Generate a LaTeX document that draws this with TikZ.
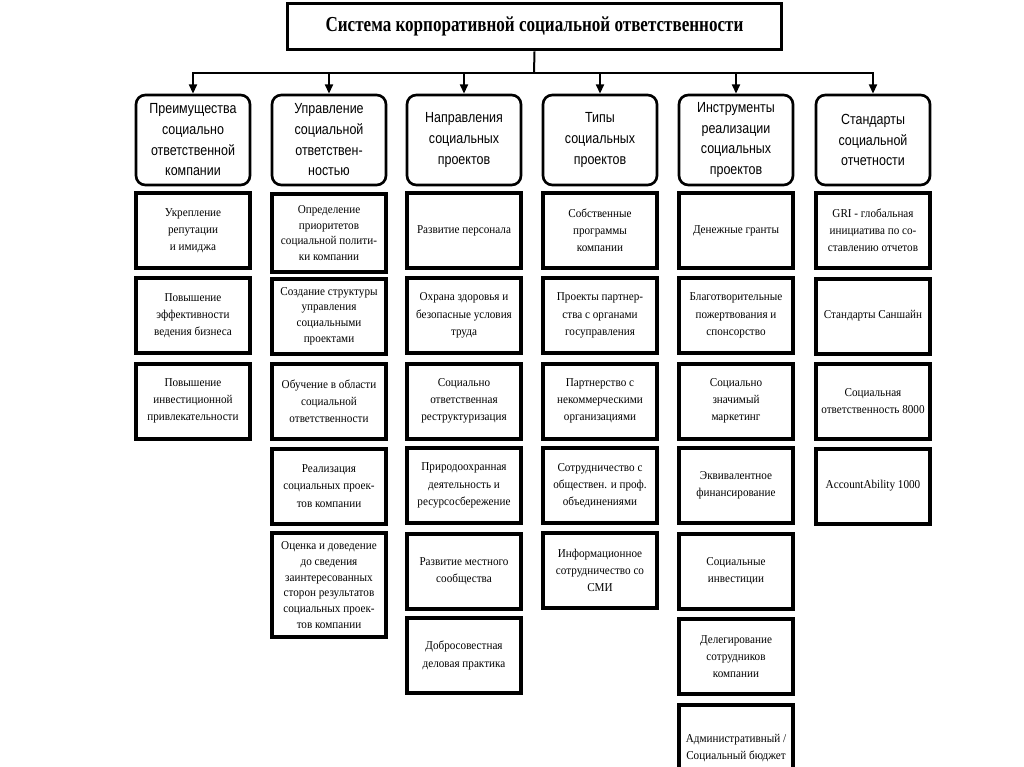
\documentclass[tikz,border=0pt]{standalone}
\usepackage{fontspec}
\setmainfont{Liberation Serif}
\newfontfamily\hdrfont[FakeStretch=0.85]{Liberation Sans}
\newfontfamily\boxfont[FakeStretch=0.93]{Liberation Serif}
\newfontfamily\ttlfont[FakeStretch=0.8]{Liberation Serif}
\usetikzlibrary{arrows.meta}
\begin{document}
\begin{tikzpicture}[x=0.75pt,y=-0.75pt,
  ttl/.style={draw, line width=2.2pt, minimum width=371pt, minimum height=35pt, inner sep=0pt,
    font=\ttlfont\fontsize{16}{18}\selectfont\bfseries},
  hdr/.style={draw, rounded corners=7pt, line width=2pt, minimum width=85.5pt, minimum height=67.5pt,
    align=center, inner sep=1pt, font=\hdrfont\fontsize{11}{15.5}\selectfont},
  item/.style={draw, line width=3pt, minimum width=85.5pt, minimum height=56.25pt,
    align=center, inner sep=0pt, font=\boxfont\fontsize{9}{12.9}\selectfont},
  dense/.style={font=\boxfont\fontsize{9}{11.8}\selectfont},
  bigitem/.style={item, dense, minimum height=78pt},
  link/.style={line width=1.5pt},
  arr/.style={link, -{Triangle[width=6pt,length=7pt]}}
]
\useasboundingbox (0,0) rectangle (1024,767);
\clip (0,0) rectangle (1024,767);
\fill[white] (0,0) rectangle (1024,767);

\node[ttl] (title) at (534.5,26.5) {Система корпоративной социальной ответственности};

\node[hdr] (h1) at (193,140) {Преимущества\\социально\\ответственной\\компании};
\node[hdr] (h2) at (329,140) {Управление\\социальной\\ответствен-\\ностью};
\node[hdr] (h3) at (464,140) {Направления\\социальных\\проектов};
\node[hdr] (h4) at (600,140) {Типы\\социальных\\проектов};
\node[hdr] (h5) at (736,140) {Инструменты\\реализации\\социальных\\проектов};
\node[hdr] (h6) at (873,140) {Стандарты\\социальной\\отчетности};

\coordinate (bus) at (534,73);
\draw[link] (title.south) -- (bus);
\foreach \h in {h1,h2,h3,h4,h5,h6} \draw[arr] (bus) -| (\h.north);

% column 1
\node[item] (a1) at (193,230.5) {Укрепление\\репутации\\и имиджа};
\node[item] (a2) at (193,315.5) {Повышение\\эффективности\\ведения бизнеса};
\node[item] (a3) at (193,401) {Повышение\\инвестиционной\\привлекательности};

% column 2
\node[item, dense, minimum height=59pt] (b1) at (329,233) {Определение\\приоритетов\\социальной полити-\\ки компании};
\node[item, dense] (b2) at (329,316) {Создание структуры\\управления\\социальными\\проектами};
\node[item] (b3) at (329,401) {Обучение в области\\социальной\\ответственности};
\node[item] (b4) at (329,486) {Реализация\\социальных проек-\\тов компании};
\node[bigitem] (b5) at (329,585) {Оценка и доведение\\до сведения\\заинтересованных\\сторон результатов\\социальных проек-\\тов компании};

% column 3
\node[item] (c1) at (464,230.5) {Развитие персонала};
\node[item] (c2) at (464,315.5) {Охрана здоровья и\\безопасные условия\\труда};
\node[item] (c3) at (464,401) {Социально\\ответственная\\реструктуризация};
\node[item] (c4) at (464,485.5) {Природоохранная\\деятельность и\\ресурсосбережение};
\node[item] (c5) at (464,571) {Развитие местного\\сообщества};
\node[item] (c6) at (464,655.5) {Добросовестная\\деловая практика};

% column 4
\node[item] (d1) at (600,230.5) {Собственные\\программы\\компании};
\node[item] (d2) at (600,315.5) {Проекты партнер-\\ства с органами\\госуправления};
\node[item] (d3) at (600,401) {Партнерство с\\некоммерческими\\организациями};
\node[item] (d4) at (600,485.5) {Сотрудничество с\\обществен. и проф.\\объединениями};
\node[item] (d5) at (600,570.5) {Информационное\\сотрудничество со\\СМИ};

% column 5
\node[item] (e1) at (736,230.5) {Денежные гранты};
\node[item] (e2) at (736,315.5) {Благотворительные\\пожертвования и\\спонсорство};
\node[item] (e3) at (736,401) {Социально\\значимый\\маркетинг};
\node[item] (e4) at (736,485.5) {Эквивалентное\\финансирование};
\node[item] (e5) at (736,571) {Социальные\\инвестиции};
\node[item] (e6) at (736,656.5) {Делегирование\\сотрудников\\компании};
\node[item, minimum height=64pt] (e7) at (736,748) {Административный /\\Социальный бюджет};

% column 6
\node[item] (f1) at (873,230.5) {GRI - глобальная\\инициатива по со-\\ставлению отчетов};
\node[item] (f2) at (873,316) {Стандарты Саншайн};
\node[item] (f3) at (873,401) {Социальная\\ответственность 8000};
\node[item] (f4) at (873,486) {AccountAbility 1000};
\end{tikzpicture}
\end{document}
